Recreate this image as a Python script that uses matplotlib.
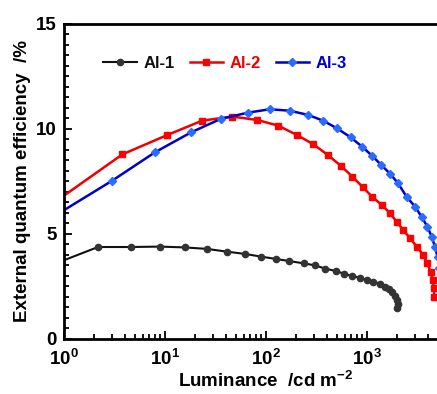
import matplotlib
matplotlib.use("Agg")
import matplotlib.pyplot as plt
from matplotlib.ticker import FixedLocator, FixedFormatter, MultipleLocator, LogLocator, NullFormatter

plt.rcParams['font.family'] = ['Liberation Sans', 'DejaVu Sans']
plt.rcParams['font.weight'] = 'bold'
plt.rcParams['mathtext.fontset'] = 'custom'
plt.rcParams['mathtext.rm'] = 'Liberation Sans'
plt.rcParams['mathtext.bf'] = 'Liberation Sans:bold'

# Al-1 (black circles)
lum1 = [0.85, 2.17, 4.6, 8.9, 15.8, 26, 41, 62, 90, 126, 170, 238, 302, 388, 488,
        592, 716, 848, 993, 1150, 1336, 1497, 1640, 1780, 1908, 1983, 2028, 1968]
eqe1 = [3.62, 4.38, 4.38, 4.40, 4.36, 4.29, 4.16, 4.05, 3.92, 3.81, 3.71, 3.60, 3.51, 3.35, 3.24,
        3.11, 3.00, 2.92, 2.81, 2.73, 2.62, 2.49, 2.37, 2.22, 2.05, 1.86, 1.68, 1.46]

# Al-2 (red squares)
lum2 = [0.8, 3.78, 10.5, 23.4, 46.4, 82, 132, 203, 295, 409, 550, 716, 913, 1120,
        1400, 1690, 1960, 2280, 2670, 3100, 3610, 3950, 4270, 4470, 4600, 4640]
eqe2 = [6.5, 8.79, 9.71, 10.4, 10.59, 10.43, 10.16, 9.71, 9.27, 8.76, 8.25, 7.73, 7.22, 6.78,
        6.38, 5.99, 5.59, 5.19, 4.80, 4.40, 4.00, 3.60, 3.20, 2.81, 2.41, 2.01]

# Al-3 (blue diamonds)
lum3 = [0.8, 3.0, 7.95, 18.1, 35.6, 66.5, 109, 172, 261, 366, 505, 690, 893, 1120, 1380,
        1700, 2030, 2460, 2990, 3470, 3960, 4370, 4700, 5000, 5200]
eqe3 = [5.85, 7.54, 8.89, 9.84, 10.48, 10.78, 10.94, 10.87, 10.67, 10.40, 10.03, 9.60, 9.16,
        8.73, 8.29, 7.86, 7.41, 6.78, 6.30, 5.82, 5.35, 4.87, 4.40, 3.9, 3.4]

xticks = [1, 10, 100, 1000, 10000]
xlabels = [r'$\mathbf{10^{0}}$', r'$\mathbf{10^{1}}$', r'$\mathbf{10^{2}}$', r'$\mathbf{10^{3}}$', '']

fig = plt.figure(figsize=(4.37, 3.94), dpi=100)
ax = fig.add_axes([0.1465, 0.1396, 0.9245, 0.7995])

ax.plot(lum1, eqe1, '-o', color='#111111', mfc='#333333', mec='#333333', lw=1.5, ms=4.5, label='Al-1')
ax.plot(lum2, eqe2, '-s', color='#ee0000', mfc='#ff0000', mec='#ff0000', lw=1.8, ms=4.8, label='Al-2')
ax.plot(lum3, eqe3, '-D', color='#0000cc', mfc='#2a6cff', mec='#2a6cff', lw=1.8, ms=4.3, label='Al-3')

ax.set_xscale('log')
ax.set_xlim(1, 1e4)
ax.set_ylim(0, 15)

ax.xaxis.set_major_locator(FixedLocator(xticks))
ax.xaxis.set_major_formatter(FixedFormatter(xlabels))
ax.xaxis.set_minor_locator(LogLocator(base=10, subs=range(2, 10)))
ax.xaxis.set_minor_formatter(NullFormatter())
ax.yaxis.set_major_locator(MultipleLocator(5))
ax.yaxis.set_minor_locator(MultipleLocator(0.5))

ax.tick_params(which='both', direction='in', top=False, right=False, width=1.3, labelsize=13.5)
ax.tick_params(axis='y', pad=5)
ax.tick_params(axis='x', pad=7)
ax.tick_params(which='major', length=6)
ax.tick_params(which='minor', length=3.5)
for s in ax.spines.values():
    s.set_linewidth(2)

ax.set_xlabel(r'Luminance  /cd m$^{\mathbf{-2}}$', fontsize=13.5, fontweight='bold', labelpad=1)
ax.set_ylabel('External quantum efficiency  /%', fontsize=13.5, fontweight='bold', labelpad=4)

leg = ax.legend(loc='upper left', bbox_to_anchor=(0.06, 0.945), ncol=3, frameon=False,
                handlelength=2.0, columnspacing=0.9, handletextpad=0.4,
                prop={'weight': 'bold', 'size': 12})
for t, c in zip(leg.get_texts(), ['#111111', '#ee0000', '#0000cc']):
    t.set_color(c)

fig.savefig('out.png', dpi=100)
